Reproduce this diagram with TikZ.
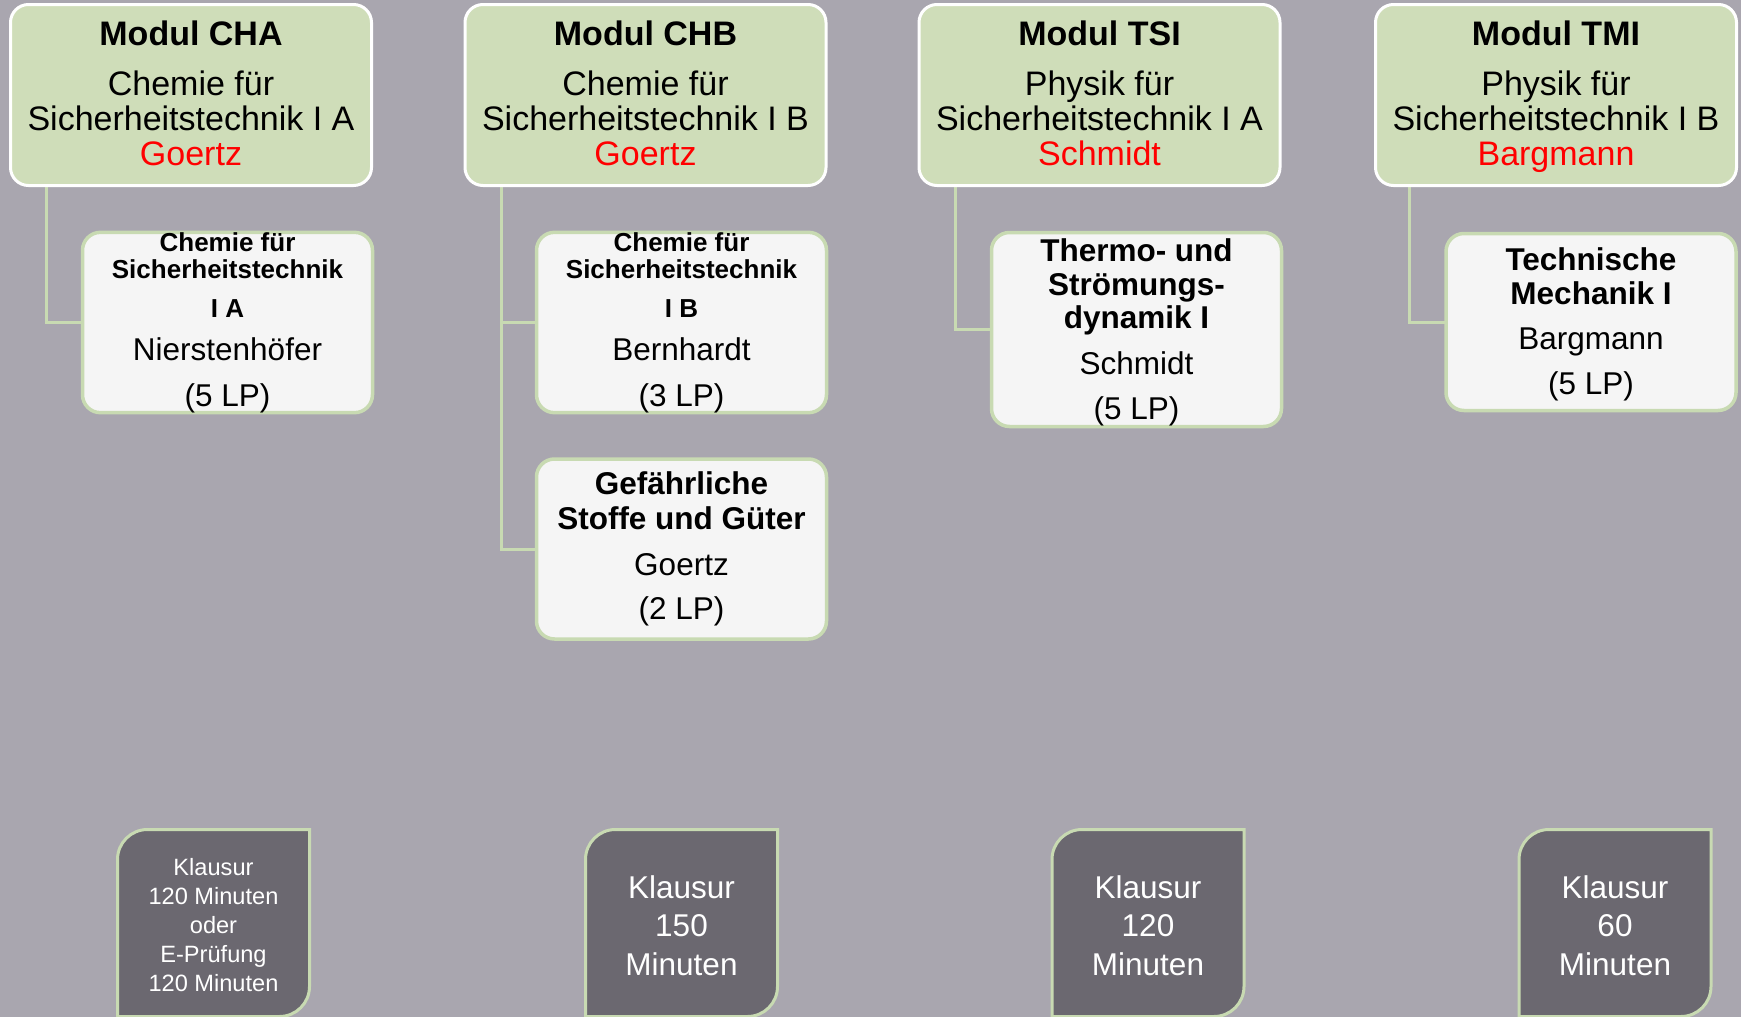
\documentclass[tikz,border=0pt]{standalone}
\usepackage{fontspec}
\setmainfont{Liberation Sans}
\usetikzlibrary{calc}
\pgfdeclarelayer{bg}
\pgfdeclarelayer{mid}
\pgfsetlayers{bg,mid,main}
\definecolor{bgcol}{RGB}{169,166,175}
\definecolor{modfill}{RGB}{207,221,185}
\definecolor{subfill}{RGB}{245,245,245}
\definecolor{leaf}{RGB}{200,218,178}
\definecolor{examfill}{RGB}{107,104,112}
\definecolor{lecred}{RGB}{255,0,0}
\newcommand\cbold{\fontsize{26}{27}\selectfont\bfseries}
\newcommand\lowpad{\rule[-4pt]{0pt}{4pt}}
\newcommand\drawexam[1]{%
  \draw[examshape] (#1.south west) -- ([yshift=-30pt]#1.north west)
    .. controls ([yshift=-13.4pt]#1.north west) and ([xshift=13.4pt]#1.north west) .. ([xshift=30pt]#1.north west)
    -- (#1.north east) -- ([yshift=30pt]#1.south east)
    .. controls ([yshift=13.4pt]#1.south east) and ([xshift=-13.4pt]#1.south east) .. ([xshift=-30pt]#1.south east)
    -- cycle;}
\tikzset{
  modbox/.style={draw=white, line width=3pt, fill=modfill, rounded corners=18pt,
    minimum width=361pt, minimum height=181pt, inner sep=0pt, outer sep=0pt,
    align=center, font=\fontsize{34}{35}\selectfont},
  subbox/.style={draw=leaf, line width=3.5pt, fill=subfill, rounded corners=18pt,
    minimum width=290pt, inner sep=0pt, outer sep=0pt, align=center},
  conn/.style={draw=leaf, line width=3pt},
  exambox/.style={minimum width=192pt, minimum height=187pt, inner sep=0pt,
    outer sep=0pt, align=center, text=white},
  examshape/.style={draw=leaf, line width=3pt, fill=examfill},
}
\begin{document}
\begin{tikzpicture}[x=1pt,y=-1pt]
\begin{pgfonlayer}{bg}
  \fill[bgcol] (0,0) rectangle (1741,1017);
\end{pgfonlayer}
\useasboundingbox (0,0) rectangle (1741,1017);

% module boxes
\node[modbox] (cha) at (191,95) {{\bfseries Modul CHA}\\[15pt]Chemie für\\Sicherheitstechnik I A\\{\color{lecred}Goertz}\lowpad};
\node[modbox] (chb) at (645.5,95) {{\bfseries Modul CHB}\\[15pt]Chemie für\\Sicherheitstechnik I B\\{\color{lecred}Goertz}\lowpad};
\node[modbox] (tsi) at (1099.5,95) {{\bfseries Modul TSI}\\[15pt]Physik für\\Sicherheitstechnik I A\\{\color{lecred}Schmidt}\lowpad};
\node[modbox] (tmi) at (1556,95) {\rule{0pt}{28.8pt}{\bfseries Modul TMI}\\[15pt]Physik für\\Sicherheitstechnik I B\\{\color{lecred}Bargmann}};

% course boxes
\node[subbox, minimum height=180pt, font=\fontsize{31.5}{27}\selectfont] (chasub) at (227.5,322.5)
  {{\cbold Chemie für}\\{\cbold Sicherheitstechnik}\\[12pt]{\cbold I A}\\[16pt]Nierstenhöfer\\[19pt](5 LP)};
\node[subbox, minimum height=180pt, font=\fontsize{31.5}{27}\selectfont] (chbsub) at (681.5,322.5)
  {{\cbold Chemie für}\\{\cbold Sicherheitstechnik}\\[12pt]{\cbold I B}\\[16pt]Bernhardt\\[19pt](3 LP)};
\node[subbox, minimum height=180pt, font=\fontsize{31.5}{35}\selectfont] (chbgef) at (681.5,549)
  {{\bfseries Gefährliche}\\{\bfseries Stoffe und Güter}\\[11pt]Goertz\\[9pt](2 LP)};
\node[subbox, minimum height=194pt, font=\fontsize{31.5}{33.5}\selectfont] (tsisub) at (1136.5,329.5)
  {\rule{0pt}{28.6pt}{\bfseries Thermo- und}\\{\bfseries Strömungs-}\\{\bfseries dynamik I}\\[12.5pt]Schmidt\\[11.5pt](5 LP)};
\node[subbox, minimum height=177pt, font=\fontsize{31.5}{34}\selectfont] (tmisub) at (1591,322)
  {\rule{0pt}{26.6pt}{\bfseries Technische}\\{\bfseries Mechanik I}\\[11pt]Bargmann\\[11pt](5 LP)};

% exam boxes
\node[exambox, font=\fontsize{23.6}{29}\selectfont] (exa) at (213.5,923) {\rule{0pt}{22pt}Klausur\\120 Minuten\\oder\\E-Prüfung\\120 Minuten};
\node[exambox, font=\fontsize{31.5}{38.5}\selectfont] (exb) at (681.5,923) {\rule{0pt}{27.6pt}Klausur\\150\\Minuten};
\node[exambox, font=\fontsize{31.5}{38.5}\selectfont] (exc) at (1148,923) {\rule{0pt}{27.6pt}Klausur\\120\\Minuten};
\node[exambox, font=\fontsize{31.5}{38.5}\selectfont] (exd) at (1615,923) {\rule{0pt}{27.6pt}Klausur\\60\\Minuten};

\begin{pgfonlayer}{mid}
  \draw[conn] ([xshift=36pt]cha.south west) |- (chasub.west);
  \draw[conn] ([xshift=36pt]chb.south west) |- (chbsub.west);
  \draw[conn] ([xshift=36pt]chb.south west) |- (chbgef.west);
  \draw[conn] ([xshift=36pt]tsi.south west) |- (tsisub.west);
  \draw[conn] ([xshift=34pt]tmi.south west) |- (tmisub.west);
  \drawexam{exa}
  \drawexam{exb}
  \drawexam{exc}
  \drawexam{exd}
\end{pgfonlayer}
\end{tikzpicture}
\end{document}
